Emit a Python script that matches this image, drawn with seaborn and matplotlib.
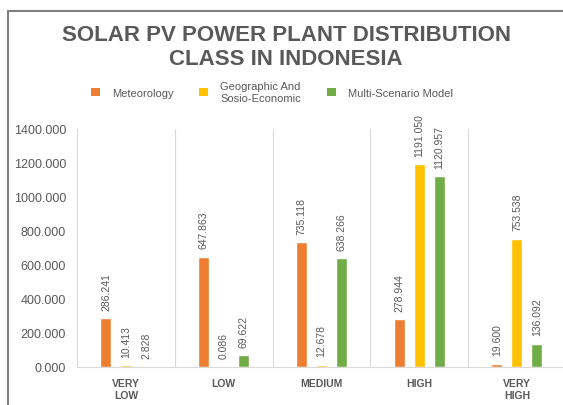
import numpy as np
import pandas as pd
import matplotlib
matplotlib.use('Agg')
import matplotlib.pyplot as plt
from matplotlib.lines import Line2D
from matplotlib.patches import Patch
import seaborn as sns

classes = ['VERY\nLOW', 'LOW', 'MEDIUM', 'HIGH', 'VERY\nHIGH']
models = ['Meteorology', 'Geographic And\nSosio-Economic', 'Multi-Scenario Model']
meteorology = [286.241, 647.863, 735.118, 278.944, 19.600]
geo_socio = [10.413, 0.086, 12.678, 1191.050, 753.538]
multi_scenario = [2.828, 69.622, 638.266, 1120.957, 136.092]
colors = ['#ED7D31', '#FFC000', '#70AD47']
y_ticks = [0, 200, 400, 600, 800, 1000, 1200, 1400]

df = pd.DataFrame({
    'cls': classes * 3,
    'model': [m for m in models for _ in classes],
    'val': meteorology + geo_socio + multi_scenario,
})

sns.set_style('white')
plt.rcParams['font.family'] = ['Liberation Sans', 'DejaVu Sans']
txt = '#595959'
light = '#d9d9d9'

fig = plt.figure(figsize=(5.63, 4.06), dpi=100)
ax = fig.add_axes([0.137, 0.094, 0.868, 0.586])

sns.barplot(data=df, x='cls', y='val', hue='model', palette=colors,
            width=0.615, gap=0.45, ax=ax, legend=False, saturation=1)

for c in ax.containers:
    ax.bar_label(c, fmt='%.3f', rotation=90, padding=6, fontsize=7.5, color=txt)

ax.set_ylim(0, 1400)
ax.set_xlim(-0.5, 4.5)
ax.set_yticks(y_ticks)
ax.set_yticklabels([f'{v:.3f}' for v in y_ticks], fontsize=9, color=txt)
ax.set_xticks(range(len(classes)))
ax.set_xticklabels(classes, fontsize=7.5, color=txt, fontweight='bold', linespacing=1.3)
ax.set_xticks([0.5, 1.5, 2.5, 3.5], minor=True)
ax.tick_params(axis='x', which='major', length=0, pad=8)
ax.tick_params(axis='x', which='minor', length=4, color=light, width=0.8)
ax.tick_params(axis='y', length=5, color=light, width=0.8, pad=3)
ax.grid(True, axis='x', which='minor', color=light, linewidth=0.8)
ax.set_xlabel('')
ax.set_ylabel('')
for s in ['top', 'right']:
    ax.spines[s].set_visible(False)
for s in ['left', 'bottom']:
    ax.spines[s].set_color(light)
    ax.spines[s].set_linewidth(0.8)

fig.text(0.508, 0.883, 'SOLAR PV POWER PLANT DISTRIBUTION\nCLASS IN INDONESIA',
         ha='center', va='center', fontsize=16, fontweight='bold', color=txt,
         linespacing=1.15)

handles = [Patch(facecolor=c, edgecolor='none') for c in colors]
leg = fig.legend(handles, models, loc='center', bbox_to_anchor=(0.483, 0.771),
                 ncol=3, frameon=False, fontsize=8, handlelength=0.8,
                 handleheight=0.8, columnspacing=2.3, handletextpad=1.1)
for t in leg.get_texts():
    t.set_color(txt)

# outer frame of the original chart
fig.add_artist(Line2D([0.014, 0.014], [0, 0.97], transform=fig.transFigure,
                      color='#808080', linewidth=1.5))
fig.add_artist(Line2D([0.014, 1.0], [0.97, 0.97], transform=fig.transFigure,
                      color='#808080', linewidth=1.5))

fig.savefig('out.png', dpi=100)
